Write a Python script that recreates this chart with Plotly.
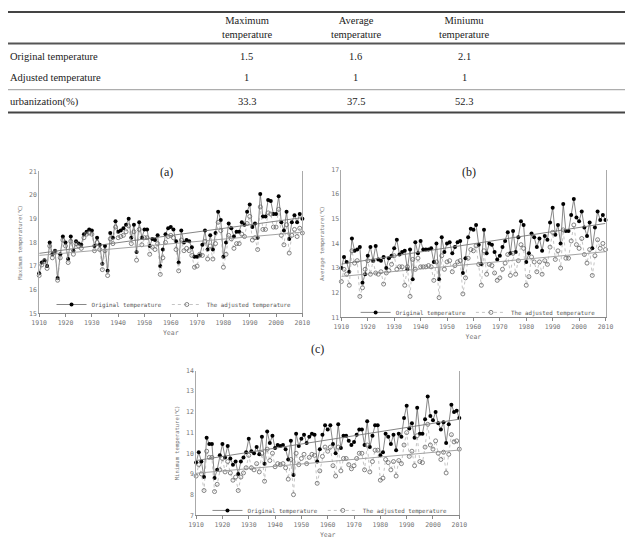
import numpy as np
import plotly.graph_objects as go

W, H = 633, 543

years = list(range(1910, 2011))

# Table
table_cols = ["Maximum<br>temperature", "Average<br>temperature", "Miniumu<br>temperature"]
table_rows = ["Original temperature", "Adjusted temperature", "urbanization(%)"]
table_vals = [["1.5", "1.6", "2.1"], ["1", "1", "1"], ["33.3", "37.5", "52.3"]]

# (a) Maximum temperature
max_orig = [16.7, 17.15, 17.25, 17.0, 18.0, 17.5, 17.65, 16.5, 17.5, 18.25,
            18.0, 17.3, 18.25, 17.65, 18.05, 17.95, 17.9, 18.35, 18.45, 18.55,
            18.5, 17.85, 18.2, 17.9, 17.1, 17.85, 16.8, 18.4, 18.2, 18.9,
            18.45, 18.5, 18.6, 18.75, 19.0, 18.2, 18.75, 17.6, 18.85, 18.2,
            18.55, 18.55, 17.85, 18.15, 18.1, 18.3, 17.0, 17.7, 18.35, 18.6,
            18.65, 18.55, 18.05, 17.15, 18.5, 18.0, 18.1, 18.05, 17.8, 17.4,
            17.4, 17.45, 17.9, 18.5, 17.7, 18.3, 17.7, 18.4, 19.3, 18.95,
            17.4, 18.0, 18.8, 18.6, 18.25, 18.45, 18.45, 18.85, 18.75, 19.3,
            19.6, 18.65, 18.8, 18.2, 20.05, 19.1, 19.1, 19.8, 19.75, 19.2,
            19.2, 19.95, 18.85, 18.5, 19.3, 18.15, 18.85, 19.15, 18.85, 19.2,
            19.0]
max_adj = [16.6, 17.05, 17.2, 16.9, 17.85, 17.35, 17.6, 16.4, 17.35, 18.1,
           17.85, 17.15, 18.05, 17.5, 17.95, 17.85, 17.75, 18.2, 18.35, 18.4,
           18.35, 17.65, 18.0, 17.7, 16.85, 17.65, 16.6, 18.15, 17.95, 18.65,
           18.2, 18.25, 18.3, 18.45, 18.7, 17.95, 18.45, 17.25, 18.55, 17.9,
           18.2, 18.2, 17.5, 17.8, 17.7, 17.95, 16.65, 17.35, 18.0, 18.25,
           18.3, 18.2, 17.7, 16.8, 18.1, 17.65, 17.75, 17.65, 17.45, 16.95,
           17.0, 17.5, 17.45, 18.05, 17.3, 17.85, 17.3, 17.95, 18.85, 18.5,
           16.95, 17.5, 18.3, 18.15, 17.75, 17.95, 17.95, 18.35, 18.25, 18.8,
           19.1, 18.1, 18.2, 17.7, 19.5, 18.55, 18.55, 19.25, 19.2, 18.65,
           18.65, 19.4, 18.3, 17.9, 18.75, 17.55, 18.3, 18.55, 18.25, 18.6,
           18.4]

# (b) Average temperature
avg_orig = [13.0, 13.45, 13.25, 12.85, 14.2, 13.7, 13.75, 13.85, 12.4, 12.75,
            13.5, 13.85, 13.3, 13.9, 13.35, 13.3, 13.45, 13.0, 13.4, 13.5,
            13.8, 14.15, 13.55, 13.65, 13.7, 12.95, 13.75, 12.55, 14.05, 13.6,
            14.1, 13.75, 13.75, 13.75, 13.8, 13.25, 14.0, 12.55, 14.25, 13.65,
            14.0, 14.05, 13.6, 13.85, 14.05, 14.1, 12.8, 13.4, 14.25, 14.6,
            14.55, 14.75, 13.95, 13.15, 14.55, 13.6, 14.0, 13.95, 13.65, 13.35,
            13.5, 13.85, 14.1, 14.45, 13.6, 14.5, 13.65, 14.25, 14.9, 14.75,
            13.25, 13.6, 14.4, 14.25, 13.85, 14.2, 13.7, 14.3, 14.15, 14.85,
            15.45, 14.35, 14.75, 14.0, 15.6, 14.5, 14.5, 15.15, 15.8, 15.05,
            14.9, 15.3, 14.65, 14.3, 14.85, 13.8, 14.65, 15.3, 14.95, 15.15,
            14.95]
avg_adj = [12.45, 12.95, 12.75, 12.3, 13.7, 13.2, 13.3, 11.85, 12.2, 12.95,
           13.3, 12.75, 13.3, 12.8, 12.75, 12.85, 12.35, 12.8, 12.9, 13.15,
           13.5, 12.95, 13.05, 13.05, 12.3, 13.05, 11.85, 13.35, 12.95, 13.4,
           13.05, 13.05, 13.05, 13.1, 13.05, 12.5, 13.25, 11.8, 13.5, 12.95,
           13.25, 13.3, 12.85, 13.1, 13.25, 13.3, 11.95, 12.6, 13.4, 13.75,
           13.7, 13.9, 13.15, 12.3, 13.7, 12.75, 13.15, 13.1, 12.8, 12.5,
           12.6, 12.95, 13.2, 13.55, 12.7, 13.6, 12.75, 13.3, 13.95, 13.8,
           12.3, 12.65, 13.45, 13.25, 12.85, 13.25, 12.75, 13.3, 13.15, 13.85,
           14.45, 13.35, 13.7, 13.0, 14.55, 13.4, 13.4, 14.1, 14.75, 13.95,
           13.8, 14.2, 13.55, 13.2, 13.75, 12.7, 13.5, 14.15, 13.8, 14.0,
           13.75]

# (c) Minimum temperature
min_orig = [9.55, 10.05, 9.6, 8.85, 10.75, 10.45, 10.45, 8.8, 9.2, 9.9,
            10.45, 9.8, 10.35, 9.75, 9.45, 9.6, 9.0, 9.6, 9.8, 10.05,
            10.7, 10.1, 10.0, 10.3, 9.95, 10.8, 9.5, 11.05, 10.5, 10.85,
            10.25, 10.4, 10.35, 10.4, 10.2, 9.7, 10.6, 8.95, 10.95, 10.35,
            10.7, 10.9, 10.5, 10.8, 10.95, 10.9, 9.6, 10.2, 10.9, 11.35,
            11.15, 11.35, 10.45, 10.0, 11.4, 10.25, 10.85, 10.85, 10.6, 10.4,
            10.55, 10.9, 11.15, 11.15, 10.4, 11.55, 10.3, 10.85, 11.35, 11.35,
            9.9, 10.05, 10.95, 10.8, 10.45, 10.9, 10.15, 10.95, 10.8, 11.7,
            12.3, 11.2, 11.45, 10.75, 12.2, 10.95, 10.95, 11.65, 12.75, 11.8,
            11.6, 12.0, 11.45, 11.15, 11.5, 10.5, 11.4, 12.35, 12.0, 12.05,
            11.7]
min_adj = [8.9, 9.45, 9.0, 8.2, 10.1, 9.8, 9.8, 8.15, 8.5, 9.2,
           9.75, 9.1, 9.6, 9.05, 8.7, 8.85, 8.2, 8.85, 9.05, 9.3,
           9.9, 9.3, 9.2, 9.5, 9.1, 10.0, 8.65, 10.2, 9.65, 10.0,
           9.35, 9.5, 9.45, 9.5, 9.3, 8.75, 9.7, 8.0, 10.0, 9.45,
           9.75, 9.95, 9.5, 9.8, 9.95, 9.9, 8.55, 9.15, 9.85, 10.3,
           10.1, 10.3, 9.4, 8.9, 10.3, 9.15, 9.75, 9.75, 9.45, 9.25,
           9.4, 9.75, 10.0, 10.0, 9.2, 10.4, 9.1, 9.6, 10.15, 10.15,
           8.7, 8.8, 9.7, 9.55, 9.2, 9.6, 8.9, 9.65, 9.5, 10.4,
           11.0, 9.85, 10.1, 9.4, 10.85, 9.6, 9.55, 10.3, 11.4, 10.4,
           10.2, 10.6, 10.0, 9.7, 10.05, 9.05, 9.95, 10.9, 10.55, 10.6,
           10.2]

panels = [
    dict(name="(a)", orig=max_orig, adj=max_adj, ylab="Maximum temperature(℃)",
         yr=[15, 21], box=(32, 302, 170, 314), lab=(163, 171), leg=(296, 305)),
    dict(name="(b)", orig=avg_orig, adj=avg_adj, ylab="Average temperature(℃)",
         yr=[11, 17], box=(342, 613, 168, 318), lab=(473, 171), leg=(608, 313)),
    dict(name="(c)", orig=min_orig, adj=min_adj, ylab="Minimum temperature(℃)",
         yr=[7, 14], box=(193, 463, 372, 519), lab=(318, 350), leg=(456, 514)),
]

def fx(p):
    return p / W

def fy(p):
    return 1 - p / H

MONO = "DejaVu Sans Mono"
SERIF = "Liberation Serif"
GRAY = "#777777"

fig = go.Figure()
layout = dict(
    width=W, height=H, margin=dict(l=0, r=0, t=0, b=0),
    paper_bgcolor="white", plot_bgcolor="white", showlegend=True,
)
annotations = []
shapes = []

for i, p in enumerate(panels):
    k = "" if i == 0 else str(i + 1)
    xa, ya = "x" + k, "y" + k
    x0, x1, y0, y1 = p["box"]
    leg = "legend" + k
    fig.add_trace(go.Scatter(
        x=years, y=p["orig"], xaxis=xa, yaxis=ya, mode="lines+markers",
        name="Original temperature", legend=leg, cliponaxis=False,
        line=dict(color="#555555", width=0.7),
        marker=dict(symbol="circle", size=4, color="black"),
    ))
    fig.add_trace(go.Scatter(
        x=years, y=p["adj"], xaxis=xa, yaxis=ya, mode="lines+markers",
        name="The adjusted temperature", legend=leg, cliponaxis=False,
        line=dict(color="#aaaaaa", width=0.7, dash="dot"),
        marker=dict(symbol="circle-open", size=4, color="#666666", line=dict(width=0.8)),
    ))
    for series, col in ((p["orig"], "#777777"), (p["adj"], "#999999")):
        a, b = np.polyfit(years, series, 1)
        ends = [years[0], years[-1]]
        fig.add_trace(go.Scatter(
            x=ends, y=[a * e + b for e in ends], xaxis=xa, yaxis=ya, mode="lines",
            line=dict(color=col, width=0.9), showlegend=False, hoverinfo="skip",
        ))
    layout["xaxis" + k] = dict(
        domain=[fx(x0), fx(x1)], anchor=ya, range=[1910, 2010],
        tickmode="array", tickvals=list(range(1910, 2011, 10)),
        showgrid=False, zeroline=False, showline=True, linecolor="#888888", linewidth=1,
        ticks="outside", ticklen=3, tickcolor="#888888",
        tickfont=dict(family=MONO, size=6.5, color=GRAY),
        title=dict(text="Year", font=dict(family=MONO, size=6.5, color=GRAY), standoff=4),
    )
    layout["yaxis" + k] = dict(
        domain=[fy(y1), fy(y0)], anchor=xa, range=p["yr"], dtick=1,
        showgrid=False, zeroline=False, showline=True, mirror=True,
        linecolor="#aaaaaa", linewidth=1, ticks="", ticklen=0,
        tickfont=dict(family=MONO, size=6.5, color=GRAY),
        title=dict(text=p["ylab"], font=dict(family=MONO, size=5.5, color=GRAY), standoff=6),
    )
    layout[leg] = dict(
        orientation="h", x=fx(p["leg"][0]), xanchor="right", y=fy(p["leg"][1]), yanchor="middle",
        bgcolor="rgba(0,0,0,0)", font=dict(family=MONO, size=5.8, color="#555555"),
        itemwidth=30, tracegroupgap=0,
    )
    annotations.append(dict(
        text=p["name"], x=fx(p["lab"][0]), y=fy(p["lab"][1]), xref="paper", yref="paper",
        xanchor="center", yanchor="middle",
        showarrow=False, font=dict(family=SERIF, size=12, color="#222222"),
    ))

# table
col_x = [245, 357, 468]
row_y = [53, 75, 99]
for cx, ct in zip(col_x, table_cols):
    annotations.append(dict(text=ct, x=fx(cx), y=fy(24), xref="paper", yref="paper",
                            xanchor="center", yanchor="middle", showarrow=False,
                            font=dict(family=SERIF, size=10.5, color="#222222")))
for ry, rt, rv in zip(row_y, table_rows, table_vals):
    annotations.append(dict(text=rt, x=0, y=fy(ry), xref="paper", yref="paper",
                            xanchor="left", yanchor="middle", showarrow=False,
                            font=dict(family=SERIF, size=10.5, color="#222222")))
    for cx, v in zip(col_x, rv):
        annotations.append(dict(text=v, x=fx(cx), y=fy(ry), xref="paper", yref="paper",
                                xanchor="center", yanchor="middle", showarrow=False,
                                font=dict(family=SERIF, size=10.5, color="#222222")))
for ly, lw, lc in ((8, 2, "#444444"), (40, 2, "#555555"), (87, 1, "#999999"), (110, 2, "#444444")):
    shapes.append(dict(type="line", xref="paper", yref="paper", x0=0, x1=1,
                       y0=fy(ly), y1=fy(ly), line=dict(color=lc, width=lw)))

layout["annotations"] = annotations
layout["shapes"] = shapes
fig.update_layout(**layout)
fig.write_html("out.html")
